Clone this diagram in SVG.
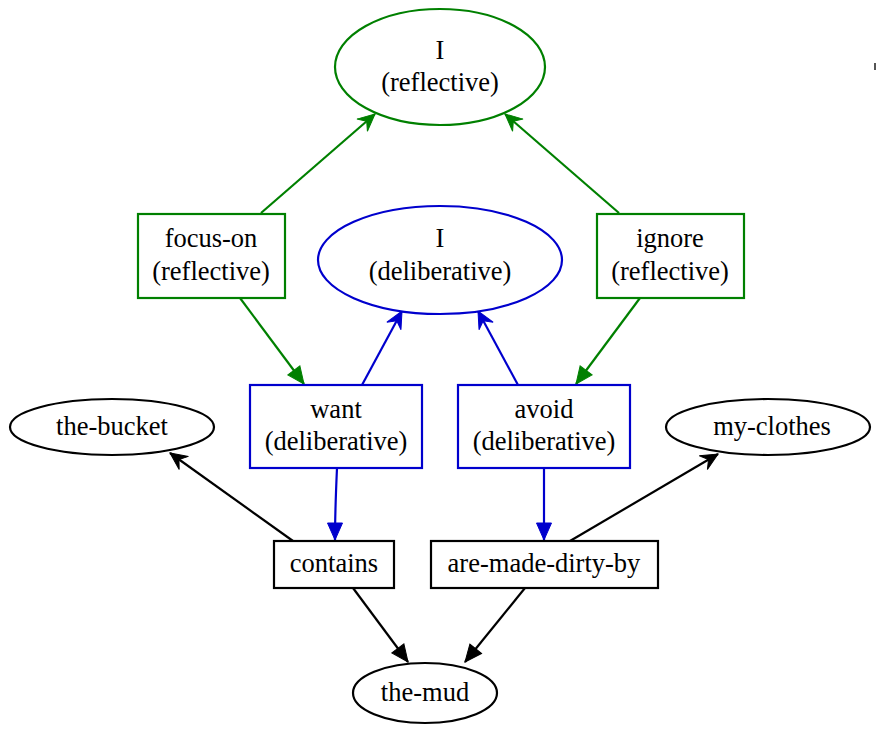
<svg xmlns="http://www.w3.org/2000/svg" width="877" height="729" viewBox="0 0 877 729">
  <style>
    text { font-family: "Liberation Serif", "Times New Roman", serif; font-size: 26.5px; text-anchor: middle; fill: #000; }
    .shape { fill: #fff; stroke-width: 2.2; }
    .g { stroke: #008000; }
    .b { stroke: #0000cd; }
    .k { stroke: #000; }
    .edge { fill: none; stroke-width: 2.2; }
  </style>
  <defs>
    <marker id="normal-g" markerUnits="userSpaceOnUse" markerWidth="20" markerHeight="18" refX="18" refY="9" orient="auto" overflow="visible">
      <path d="M1,1.5 L18,9 L1,16.5 Z" fill="#008000" stroke="#008000" stroke-width="1"/>
    </marker>
    <marker id="normal-b" markerUnits="userSpaceOnUse" markerWidth="20" markerHeight="18" refX="18" refY="9" orient="auto" overflow="visible">
      <path d="M1,1.5 L18,9 L1,16.5 Z" fill="#0000cd" stroke="#0000cd" stroke-width="1"/>
    </marker>
    <marker id="normal-k" markerUnits="userSpaceOnUse" markerWidth="20" markerHeight="18" refX="18" refY="9" orient="auto" overflow="visible">
      <path d="M1,1.5 L18,9 L1,16.5 Z" fill="#000" stroke="#000" stroke-width="1"/>
    </marker>
    <marker id="vee-g" markerUnits="userSpaceOnUse" markerWidth="20" markerHeight="18" refX="18" refY="9" orient="auto" overflow="visible">
      <path d="M1,1 L18,9 L1,17 L7,9 Z" fill="#008000" stroke="#008000" stroke-width="1"/>
    </marker>
    <marker id="vee-b" markerUnits="userSpaceOnUse" markerWidth="20" markerHeight="18" refX="18" refY="9" orient="auto" overflow="visible">
      <path d="M1,1 L18,9 L1,17 L7,9 Z" fill="#0000cd" stroke="#0000cd" stroke-width="1"/>
    </marker>
    <marker id="vee-k" markerUnits="userSpaceOnUse" markerWidth="20" markerHeight="18" refX="18" refY="9" orient="auto" overflow="visible">
      <path d="M1,1 L18,9 L1,17 L7,9 Z" fill="#000" stroke="#000" stroke-width="1"/>
    </marker>
  </defs>

  <rect width="877" height="729" fill="#fff"/>

  <g id="edges">
    <path class="edge g" d="M261,213 L375,114" marker-end="url(#vee-g)"/>
    <path class="edge g" d="M619,213 L505,114" marker-end="url(#vee-g)"/>
    <path class="edge g" d="M240,298 L304,384" marker-end="url(#normal-g)"/>
    <path class="edge g" d="M640,298 L576,384" marker-end="url(#normal-g)"/>
    <path class="edge b" d="M362,385 L402,311" marker-end="url(#vee-b)"/>
    <path class="edge b" d="M518,385 L478,311" marker-end="url(#vee-b)"/>
    <path class="edge b" d="M337,468 C336,490 335,515 335,540" marker-end="url(#normal-b)"/>
    <path class="edge b" d="M544,468 L544,540" marker-end="url(#normal-b)"/>
    <path class="edge k" d="M293,541 L170,453" marker-end="url(#vee-k)"/>
    <path class="edge k" d="M570,541 L718,454" marker-end="url(#vee-k)"/>
    <path class="edge k" d="M353,588 L408,662" marker-end="url(#normal-k)"/>
    <path class="edge k" d="M525,588 L465,662" marker-end="url(#normal-k)"/>
  </g>

  <g id="i-reflective">
    <ellipse class="shape g" cx="440" cy="67" rx="105" ry="58"/>
    <text x="440" y="59">I</text>
    <text x="440" y="91">(reflective)</text>
  </g>
  <g id="focus-on">
    <rect class="shape g" x="138" y="214" width="147" height="84"/>
    <text x="211" y="247">focus-on</text>
    <text x="211" y="280">(reflective)</text>
  </g>
  <g id="i-deliberative">
    <ellipse class="shape b" cx="440" cy="260" rx="122" ry="54"/>
    <text x="440" y="247">I</text>
    <text x="440" y="280">(deliberative)</text>
  </g>
  <g id="ignore">
    <rect class="shape g" x="597" y="214" width="147" height="84"/>
    <text x="670" y="247">ignore</text>
    <text x="670" y="280">(reflective)</text>
  </g>
  <g id="want">
    <rect class="shape b" x="250" y="385" width="172" height="83"/>
    <text x="336" y="418">want</text>
    <text x="336" y="450">(deliberative)</text>
  </g>
  <g id="avoid">
    <rect class="shape b" x="458" y="385" width="172" height="83"/>
    <text x="544" y="418">avoid</text>
    <text x="544" y="450">(deliberative)</text>
  </g>
  <g id="the-bucket">
    <ellipse class="shape k" cx="112" cy="427" rx="102" ry="28"/>
    <text x="112" y="435">the-bucket</text>
  </g>
  <g id="my-clothes">
    <ellipse class="shape k" cx="768" cy="427" rx="102" ry="28"/>
    <text x="772" y="435">my-clothes</text>
  </g>
  <g id="contains">
    <rect class="shape k" x="274" y="541" width="120" height="47"/>
    <text x="334" y="572">contains</text>
  </g>
  <g id="are-made-dirty-by">
    <rect class="shape k" x="431" y="541" width="227" height="47"/>
    <text x="544" y="572">are-made-dirty-by</text>
  </g>
  <g id="the-mud">
    <ellipse class="shape k" cx="425" cy="693" rx="72" ry="30"/>
    <text x="425" y="701">the-mud</text>
  </g>

  <rect x="874" y="63" width="2" height="7" fill="#555"/>
</svg>
